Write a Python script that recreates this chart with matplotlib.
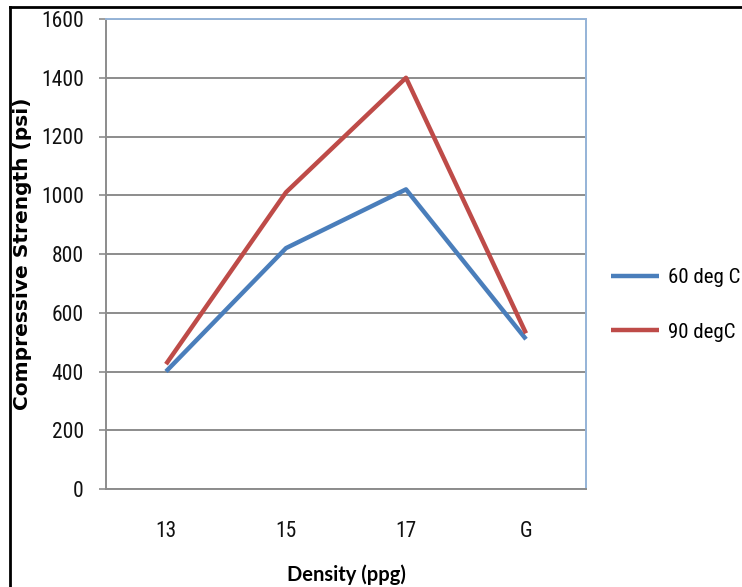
import matplotlib
matplotlib.use("Agg")
import matplotlib.pyplot as plt
from matplotlib.lines import Line2D

# compressive strength vs slurry density
densities = ["13", "15", "17", "G"]
strength_60 = [400, 820, 1020, 510]
strength_90 = [425, 1010, 1400, 530]
series_labels = ["60 deg C", "90 degC"]
yticks = [0, 200, 400, 600, 800, 1000, 1200, 1400, 1600]

BLUE = "#4a7ebb"
RED = "#be4b48"
GRID = "#8c8c8c"
EDGE = "#95b3d7"
FONT = ["Roboto Condensed", "Lato", "DejaVu Sans"]

W, H = 742, 587
fig = plt.figure(figsize=(W / 100, H / 100), dpi=100)
ax = fig.add_axes([106 / W, 1 - 489 / H, 480 / W, 470 / H])

x = range(len(densities))
ax.plot(x, strength_60, color=BLUE, lw=3.2, solid_capstyle="butt", label=series_labels[0], zorder=3)
ax.plot(x, strength_90, color=RED, lw=3.2, solid_capstyle="butt", label=series_labels[1], zorder=3)

ax.set_xlim(-0.5, len(densities) - 0.5)
ax.set_ylim(0, 1600)
ax.set_yticks(yticks)
ax.set_xticks(list(x))
ax.set_xticklabels(densities)
ax.yaxis.grid(True, color=GRID, lw=1.4)
ax.set_axisbelow(True)

ax.tick_params(axis="y", length=5, width=1.2, color=GRID, pad=11, labelsize=15.5, labelcolor="#111111")
ax.tick_params(axis="x", length=0, pad=23, labelsize=15.5, labelcolor="#111111")
for lab in ax.get_xticklabels() + ax.get_yticklabels():
    lab.set_family(FONT)

for side in ("left", "bottom"):
    ax.spines[side].set_color(GRID)
    ax.spines[side].set_linewidth(1.4)
for side in ("top", "right"):
    ax.spines[side].set_color(EDGE)
    ax.spines[side].set_linewidth(1.4)

fig.text(23 / W, 1 - 254 / H, "Compressive Strength (psi)", rotation=90,
         ha="center", va="center", fontsize=14.5, fontweight="bold", family="DejaVu Sans")
fig.text(346 / W, 1 - 575 / H, "Density (ppg)", ha="center", va="center",
         fontsize=14.5, fontweight="bold", family=["Lato", "DejaVu Sans"])

fig.legend(loc="center left", bbox_to_anchor=(592 / W, 1 - 305 / H), frameon=False,
           handlelength=2.3, handletextpad=0.45, labelspacing=1.7,
           prop={"family": FONT, "size": 15})

# outer frame along the top and left edges
fig.add_artist(Line2D([10 / W, 10 / W], [0, 1 - 7 / H], transform=fig.transFigure, color="black", lw=2))
fig.add_artist(Line2D([10 / W, 1], [1 - 7 / H, 1 - 7 / H], transform=fig.transFigure, color="black", lw=2))

fig.savefig("out.png", dpi=100)
